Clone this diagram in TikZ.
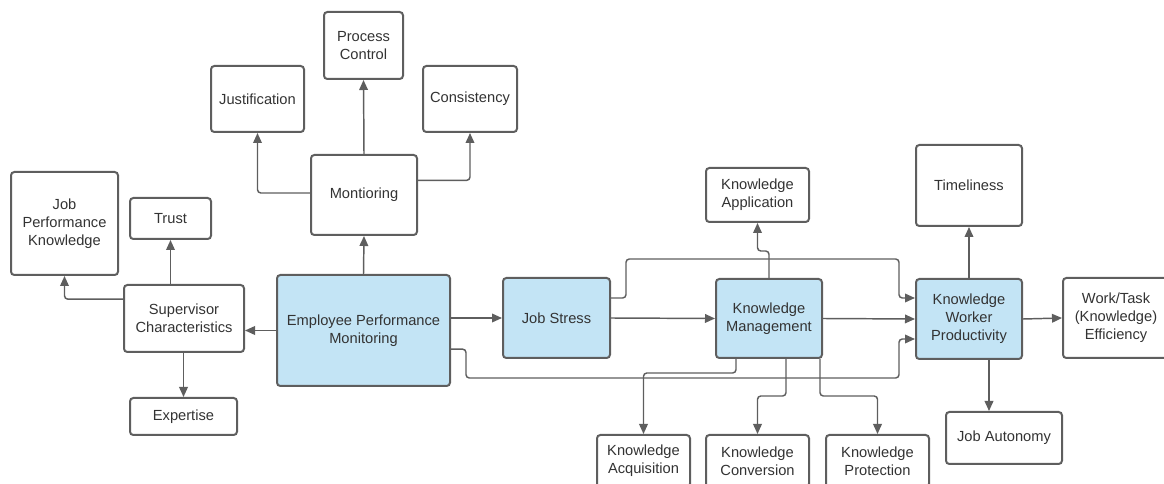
\documentclass[tikz,border=0pt]{standalone}
\usepackage{fontspec}
\setmainfont{Liberation Sans}
\usetikzlibrary{arrows.meta}

\definecolor{linegray}{RGB}{94,94,94}
\definecolor{textgray}{RGB}{51,51,51}
\definecolor{hubblue}{RGB}{195,228,245}

\tikzset{
  box/.style={draw=linegray, line width=1.5pt, rounded corners=2.5pt, fill=white,
    align=center, text=textgray, inner sep=2pt,
    font=\fontsize{11}{13.5}\selectfont},
  hub/.style={box, fill=hubblue},
  arr/.style={draw=linegray, line width=1.1pt, rounded corners=2.5pt,
    -{Triangle[length=7.5pt,width=6.5pt]}},
}

\begin{document}
\begin{tikzpicture}[x=0.75pt,y=-0.75pt]
    \useasboundingbox (0,0) rectangle (1164,484);
    \clip (0,0) rectangle (1164,484);

    % central chain
    \node[hub, minimum width=129.75pt, minimum height=83.25pt] (epm) at (363.5,330.5) {Employee Performance\\Monitoring};
    \node[hub, minimum width=80.25pt, minimum height=60pt] (stress) at (556.5,318) {Job Stress};
    \node[hub, minimum width=79.5pt, minimum height=59.25pt] (km) at (769,318.5) {Knowledge\\Management};
    \node[hub, minimum width=79.5pt, minimum height=60pt] (kwp) at (969,319) {Knowledge\\Worker\\Productivity};

    % supervisor side
    \node[box, minimum width=90pt, minimum height=50.25pt] (sup) at (184,318.5) {Supervisor\\Characteristics};
    \node[box, minimum width=80.25pt, minimum height=77.25pt] (jpk) at (64.5,223.5) {Job\\Performance\\Knowledge};
    \node[box, minimum width=60.75pt, minimum height=30.75pt] (trust) at (170.5,218.5) {Trust};
    \node[box, minimum width=80.25pt, minimum height=27.75pt] (exp) at (183.5,416.5) {Expertise};

    % monitoring branch
    \node[box, minimum width=79.5pt, minimum height=60pt] (mon) at (364,195) {Montioring};
    \node[box, minimum width=69.75pt, minimum height=49.5pt] (just) at (257.5,99) {Justification};
    \node[box, minimum width=59.25pt, minimum height=50.25pt] (proc) at (363.5,45.5) {Process\\Control};
    \node[box, minimum width=70.5pt, minimum height=49.5pt] (cons) at (470,99) {Consistency};

    % knowledge management outcomes
    \node[box, minimum width=77.25pt, minimum height=40.5pt] (kapp) at (757.5,195) {Knowledge\\Application};
    \node[box, minimum width=69.75pt, minimum height=39pt] (kacq) at (643.5,461) {Knowledge\\Acquisition};
    \node[box, minimum width=77.25pt, minimum height=39pt] (kconv) at (757.5,461) {Knowledge\\Conversion};
    \node[box, minimum width=77.25pt, minimum height=39pt] (kprot) at (877.5,461) {Knowledge\\Protection};

    % productivity outcomes
    \node[box, minimum width=79.5pt, minimum height=60.75pt] (time) at (969,185.5) {Timeliness};
    \node[box, minimum width=79.5pt, minimum height=60pt] (wte) at (1116,318) {Work/Task\\(Knowledge)\\Efficiency};
    \node[box, minimum width=87pt, minimum height=39pt] (ja) at (1004,438) {Job Autonomy};

    % connectors
    \draw[arr] (epm.west) -- (sup.east |- epm.west);
    \draw[arr] ([yshift=14.5pt]sup.west) -| (jpk.south);
    \draw[arr] (sup.north -| trust) -- (trust.south);
    \draw[arr] (sup.south -| exp) -- (exp.north);

    \draw[arr] (epm.north) -- (mon.south);
    \draw[arr] (mon.north) -- (proc.south);
    \draw[arr] ([yshift=1.5pt]mon.west) -| (just.south);
    \draw[arr] ([yshift=11pt]mon.east) -| (cons.south);

    \draw[arr] (epm.east |- stress.west) -- (stress.west);
    \draw[arr] ([yshift=-14pt]epm.east) -- ++(15,0) |- ([xshift=-12pt,yshift=-44.25pt]kwp.west) |- ([yshift=-15pt]kwp.west);
    \draw[arr] ([yshift=15pt]stress.east) -- ++(15,0) |- ([xshift=-12pt,yshift=45pt]kwp.west) |- ([yshift=15.75pt]kwp.west);
    \draw[arr] (stress.east) -- (km.west);
    \draw[arr] (km.east) -- (kwp.west);

    \draw[arr] (km.north) -- ++(0,-27) -| (kapp.south);
    \draw[arr] ([xshift=-24.75pt]km.south) -- ++(0,14) -| (kacq.north);
    \draw[arr] ([xshift=12.75pt]km.south) -- ++(0,37) -| (kconv.north);
    \draw[arr] ([xshift=38.25pt]km.south) -- ++(0,37) -| (kprot.north);

    \draw[arr] (kwp.north) -- (time.south);
    \draw[arr] (kwp.east) -- (wte.west);
    \draw[arr] ([xshift=15pt]kwp.south) -- ([xshift=15pt]kwp.south |- ja.north);
\end{tikzpicture}
\end{document}
